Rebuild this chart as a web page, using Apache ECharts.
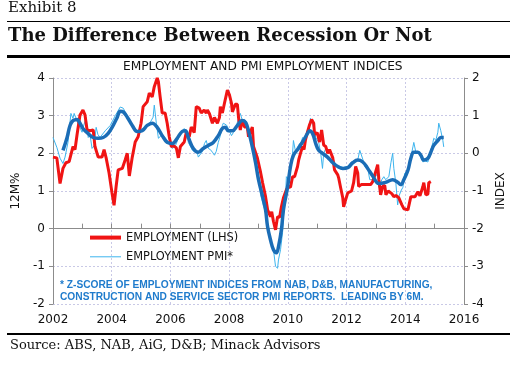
<!DOCTYPE html>
<html><head><meta charset="utf-8">
<script src="https://cdn.jsdelivr.net/npm/echarts/dist/echarts.min.js"></script>
<style>html,body{margin:0;padding:0;background:#fff}#c{width:515px;height:366px}</style>
</head><body><div id="c"></div>
<script>
// Employment, 12M% (LHS): [year, value]
var employment = [[2002.00,1.9],[2002.13,1.88],[2002.24,1.2],[2002.34,1.6],[2002.44,1.75],[2002.55,1.78],[2002.68,2.18],[2002.75,2.1],[2002.82,2.5],[2002.92,3.02],[2003.02,3.15],[2003.09,3.02],[2003.16,2.62],[2003.26,2.6],[2003.37,2.62],[2003.43,2.18],[2003.54,1.9],[2003.67,1.9],[2003.74,2.1],[2003.81,1.88],[2003.91,1.48],[2004.01,0.95],[2004.08,0.62],[2004.15,1.12],[2004.22,1.56],[2004.36,1.6],[2004.46,1.83],[2004.53,2.0],[2004.60,1.4],[2004.70,1.9],[2004.80,2.3],[2004.90,2.44],[2005.00,2.8],[2005.07,3.24],[2005.21,3.37],[2005.28,3.6],[2005.38,3.5],[2005.45,3.77],[2005.55,4.0],[2005.59,3.9],[2005.65,3.5],[2005.72,3.07],[2005.82,3.07],[2005.89,2.8],[2005.96,2.44],[2006.03,2.18],[2006.10,2.2],[2006.20,2.15],[2006.27,1.88],[2006.34,2.18],[2006.40,2.2],[2006.47,2.3],[2006.54,2.55],[2006.64,2.44],[2006.71,2.7],[2006.81,2.55],[2006.88,3.24],[2006.98,3.2],[2007.05,3.07],[2007.15,3.15],[2007.22,3.07],[2007.26,3.15],[2007.33,3.05],[2007.43,2.8],[2007.50,2.95],[2007.60,2.8],[2007.67,2.95],[2007.70,3.24],[2007.77,3.07],[2007.84,3.33],[2007.94,3.68],[2008.01,3.55],[2008.08,3.33],[2008.11,3.1],[2008.21,3.3],[2008.28,3.3],[2008.32,2.95],[2008.38,2.62],[2008.45,2.9],[2008.52,2.7],[2008.62,2.7],[2008.66,2.44],[2008.79,2.7],[2008.83,2.18],[2008.96,1.88],[2009.07,1.5],[2009.14,1.22],[2009.24,0.85],[2009.31,0.5],[2009.41,0.32],[2009.45,0.45],[2009.51,0.19],[2009.58,-0.03],[2009.65,0.32],[2009.72,0.3],[2009.78,0.58],[2009.85,0.82],[2009.95,1.03],[2010.02,1.12],[2010.09,1.1],[2010.16,1.38],[2010.23,1.38],[2010.26,1.4],[2010.33,1.65],[2010.37,1.83],[2010.43,2.0],[2010.50,2.18],[2010.55,2.1],[2010.60,2.36],[2010.67,2.57],[2010.74,2.76],[2010.81,2.9],[2010.88,2.8],[2010.91,2.5],[2011.00,2.55],[2011.08,2.3],[2011.15,2.62],[2011.22,2.22],[2011.29,2.18],[2011.36,2.0],[2011.42,2.1],[2011.53,1.88],[2011.59,1.56],[2011.70,1.43],[2011.73,1.35],[2011.80,1.08],[2011.87,0.82],[2011.90,0.58],[2011.97,0.77],[2012.04,0.95],[2012.10,0.9],[2012.17,1.0],[2012.24,1.22],[2012.31,1.65],[2012.38,1.48],[2012.41,1.12],[2012.50,1.17],[2012.60,1.17],[2012.70,1.17],[2012.82,1.17],[2012.89,1.25],[2012.96,1.43],[2013.06,1.7],[2013.10,1.3],[2013.16,0.9],[2013.23,1.12],[2013.30,1.15],[2013.34,0.9],[2013.42,1.0],[2013.47,0.95],[2013.54,0.93],[2013.61,0.85],[2013.68,0.88],[2013.78,0.82],[2013.88,0.64],[2013.95,0.53],[2014.09,0.5],[2014.14,0.55],[2014.19,0.85],[2014.25,0.87],[2014.33,0.85],[2014.43,0.98],[2014.50,0.87],[2014.53,0.92],[2014.60,1.12],[2014.63,1.22],[2014.70,0.9],[2014.77,0.92],[2014.80,1.22],[2014.87,1.25]];

// Employment PMI z-score (RHS), leading 6M: [year, value]
var employmentPMI = [[2002.00,0.42],[2002.13,0.16],[2002.24,-0.13],[2002.34,-0.27],[2002.41,-0.1],[2002.51,0.29],[2002.61,1.06],[2002.68,0.93],[2002.72,1.06],[2002.80,0.9],[2002.85,0.8],[2002.99,0.56],[2003.05,0.75],[2003.13,0.95],[2003.20,0.42],[2003.26,0.5],[2003.33,0.13],[2003.40,0.2],[2003.47,0.69],[2003.53,0.5],[2003.60,0.42],[2003.78,0.6],[2003.95,0.74],[2004.12,1.0],[2004.29,1.23],[2004.39,1.2],[2004.53,1.0],[2004.63,0.82],[2004.73,0.69],[2004.87,0.6],[2005.07,0.66],[2005.31,0.82],[2005.41,0.96],[2005.45,1.28],[2005.52,0.8],[2005.59,0.4],[2005.72,0.5],[2005.82,0.42],[2005.93,0.29],[2006.06,0.13],[2006.17,0.2],[2006.27,0.4],[2006.40,0.56],[2006.47,0.66],[2006.57,0.56],[2006.61,0.29],[2006.75,0.08],[2006.81,0.05],[2006.92,0.0],[2006.95,-0.1],[2007.09,0.05],[2007.16,0.26],[2007.22,0.34],[2007.29,0.13],[2007.36,0.1],[2007.43,0.03],[2007.50,-0.05],[2007.56,0.05],[2007.63,0.29],[2007.70,0.47],[2007.77,0.74],[2007.80,0.8],[2007.91,0.75],[2007.97,0.66],[2008.08,0.47],[2008.15,0.56],[2008.25,0.74],[2008.32,0.93],[2008.38,1.06],[2008.45,0.87],[2008.52,0.9],[2008.62,0.8],[2008.69,0.53],[2008.79,0.17],[2008.90,-0.25],[2009.00,-0.6],[2009.07,-1.1],[2009.17,-1.4],[2009.24,-1.55],[2009.31,-2.03],[2009.41,-2.3],[2009.51,-2.56],[2009.58,-3.0],[2009.65,-3.05],[2009.68,-2.83],[2009.75,-2.56],[2009.82,-2.1],[2009.85,-1.69],[2009.92,-1.15],[2009.95,-0.62],[2010.02,-0.7],[2010.09,-0.35],[2010.16,0.0],[2010.19,0.34],[2010.26,0.05],[2010.33,0.17],[2010.40,0.26],[2010.43,0.2],[2010.50,0.42],[2010.57,0.34],[2010.64,0.56],[2010.71,0.69],[2010.77,0.93],[2010.84,0.8],[2010.88,0.66],[2010.95,0.42],[2011.01,0.45],[2011.05,0.29],[2011.12,0.0],[2011.18,-0.4],[2011.22,0.0],[2011.29,0.13],[2011.35,0.16],[2011.39,0.03],[2011.49,0.0],[2011.56,-0.18],[2011.63,-0.3],[2011.70,-0.33],[2011.80,-0.35],[2011.90,-0.38],[2011.97,-0.35],[2012.04,-0.35],[2012.14,-0.25],[2012.24,-0.2],[2012.38,-0.18],[2012.45,0.08],[2012.55,-0.15],[2012.62,-0.35],[2012.72,-0.4],[2012.79,-0.7],[2012.89,-0.7],[2012.96,-0.65],[2013.06,-0.53],[2013.10,-0.9],[2013.20,-0.7],[2013.27,-0.62],[2013.33,-0.7],[2013.44,-0.62],[2013.51,-0.25],[2013.57,0.0],[2013.61,-0.4],[2013.68,-0.8],[2013.74,-1.37],[2013.78,-1.15],[2013.85,-1.0],[2013.92,-0.9],[2013.98,-0.53],[2014.09,-0.45],[2014.15,-0.25],[2014.26,0.17],[2014.29,0.29],[2014.36,0.03],[2014.43,0.05],[2014.46,0.03],[2014.53,-0.05],[2014.60,-0.23],[2014.67,-0.2],[2014.77,-0.23],[2014.87,0.08],[2014.94,0.29],[2014.97,0.4],[2015.04,0.35],[2015.11,0.56],[2015.14,0.8],[2015.21,0.6],[2015.28,0.34],[2015.31,0.17]];

// Smoothed employment PMI (RHS): [year, value]
var employmentPMISmoothed = [[2002.34,0.08],[2002.48,0.42],[2002.58,0.74],[2002.68,0.87],[2002.82,0.9],[2002.92,0.8],[2003.02,0.66],[2003.19,0.53],[2003.37,0.42],[2003.54,0.4],[2003.71,0.42],[2003.88,0.53],[2004.05,0.74],[2004.19,0.96],[2004.29,1.12],[2004.39,1.1],[2004.53,0.96],[2004.70,0.74],[2004.87,0.58],[2005.04,0.6],[2005.21,0.74],[2005.38,0.8],[2005.55,0.69],[2005.72,0.47],[2005.89,0.29],[2006.06,0.26],[2006.23,0.4],[2006.40,0.58],[2006.51,0.6],[2006.61,0.42],[2006.78,0.13],[2006.95,0.03],[2007.12,0.13],[2007.29,0.21],[2007.46,0.29],[2007.63,0.47],[2007.77,0.66],[2007.87,0.69],[2007.97,0.6],[2008.11,0.6],[2008.28,0.74],[2008.45,0.87],[2008.56,0.82],[2008.66,0.6],[2008.79,0.17],[2008.90,-0.25],[2009.00,-0.7],[2009.14,-1.15],[2009.24,-1.5],[2009.31,-1.95],[2009.41,-2.3],[2009.51,-2.56],[2009.61,-2.64],[2009.68,-2.48],[2009.78,-2.03],[2009.85,-1.5],[2009.99,-0.89],[2010.09,-0.35],[2010.19,-0.05],[2010.36,0.13],[2010.53,0.34],[2010.67,0.53],[2010.74,0.6],[2010.84,0.53],[2010.95,0.26],[2011.05,0.08],[2011.18,0.0],[2011.35,-0.1],[2011.53,-0.25],[2011.70,-0.35],[2011.87,-0.4],[2012.04,-0.38],[2012.21,-0.25],[2012.38,-0.18],[2012.55,-0.23],[2012.72,-0.4],[2012.89,-0.6],[2013.10,-0.8],[2013.33,-0.77],[2013.57,-0.7],[2013.74,-0.77],[2013.85,-0.83],[2013.95,-0.7],[2014.09,-0.45],[2014.19,-0.13],[2014.29,0.03],[2014.43,0.03],[2014.53,-0.05],[2014.63,-0.18],[2014.77,-0.13],[2014.87,0.03],[2014.97,0.21],[2015.11,0.34],[2015.21,0.42],[2015.31,0.42]];

var xTicks = [2002, 2004, 2006, 2008, 2010, 2012, 2014, 2016];
var leftTicks = [-2, -1, 0, 1, 2, 3, 4];
var rightTicks = [-4, -3, -2, -1, 0, 1, 2];

var sans = 'DejaVu Sans';
var serif = 'DejaVu Serif';
var gridColor = '#c9c9e6';
var axisGray = '#8c8c8c';
var red = '#f01414';
var lightBlue = '#3cb4ee';
var darkBlue = '#1b6db6';

var chart = echarts.init(document.getElementById('c'), null, {renderer: 'canvas'});
chart.setOption({
  animation: false,
  backgroundColor: '#fff',
  title: [
    {text: 'Exhibit 8', left: 8, top: 1, padding: 0,
     textStyle: {fontFamily: serif, fontSize: 15, fontWeight: 'normal', color: '#111'}},
    {text: 'The Difference Between Recession Or Not', left: 8, top: 27, padding: 0,
     textStyle: {fontFamily: serif, fontSize: 18, fontWeight: 'bold', color: '#111'}},
    {text: 'EMPLOYMENT AND PMI EMPLOYMENT INDICES', left: 123, top: 61, padding: 0,
     textStyle: {fontFamily: sans, fontSize: 12.2, fontWeight: 'normal', color: '#111'}},
    {text: '* Z-SCORE OF EMPLOYMENT INDICES FROM NAB, D&B, MANUFACTURING,\nCONSTRUCTION AND SERVICE SECTOR PMI REPORTS.  LEADING BY 6M.',
     left: 60, top: 279, padding: 0,
     textStyle: {fontFamily: 'Liberation Sans', fontSize: 10.2, fontWeight: 'bold', color: '#1f7bcc', lineHeight: 12}},
    {text: 'Source: ABS, NAB, AiG, D&B; Minack Advisors', left: 10, top: 339, padding: 0,
     textStyle: {fontFamily: serif, fontSize: 13, fontWeight: 'normal', color: '#111'}}
  ],
  graphic: [
    {type: 'line', shape: {x1: 7, y1: 21.5, x2: 510, y2: 21.5}, style: {stroke: '#000', lineWidth: 1}},
    {type: 'line', shape: {x1: 7, y1: 56.5, x2: 510, y2: 56.5}, style: {stroke: '#000', lineWidth: 3}},
    {type: 'line', shape: {x1: 7, y1: 334, x2: 510, y2: 334}, style: {stroke: '#000', lineWidth: 2}}
  ],
  legend: {
    data: [
      {name: 'EMPLOYMENT (LHS)', lineStyle: {width: 4, color: red}},
      {name: 'EMPLOYMENT PMI*', lineStyle: {width: 1, color: lightBlue}}
    ],
    orient: 'vertical', left: 88, top: 232, padding: 0,
    itemWidth: 31, itemHeight: 14, itemGap: 8,
    itemStyle: {opacity: 0},
    textStyle: {fontFamily: sans, fontSize: 11.4, color: '#111'}
  },
  grid: {left: 53, right: 51, top: 78, bottom: 62, containLabel: false},
  xAxis: [
    {type: 'value', min: xTicks[0], max: xTicks[xTicks.length - 1], interval: 2, position: 'bottom',
     axisLine: {show: false}, axisTick: {show: false},
     axisLabel: {fontFamily: sans, fontSize: 12, color: '#111', margin: 10, formatter: function (v) { return String(v); }},
     splitLine: {show: true, lineStyle: {color: gridColor, type: [2, 2], width: 1}}},
    {type: 'value', min: xTicks[0], max: xTicks[xTicks.length - 1], interval: 1, position: 'bottom',
     axisLine: {show: true, onZero: true, onZeroAxisIndex: 0, lineStyle: {color: axisGray, width: 1}},
     axisTick: {show: true, inside: true, length: 5, lineStyle: {color: axisGray}},
     axisLabel: {show: false}, splitLine: {show: false}}
  ],
  yAxis: [
    {type: 'value', min: leftTicks[0], max: leftTicks[leftTicks.length - 1], interval: 1, position: 'left',
     name: '12M%', nameLocation: 'middle', nameGap: 26,
     nameTextStyle: {fontFamily: sans, fontSize: 12, color: '#111'},
     axisLine: {show: true, lineStyle: {color: axisGray}},
     axisTick: {show: true, length: 4, lineStyle: {color: axisGray}},
     axisLabel: {fontFamily: sans, fontSize: 12, color: '#111', margin: 8},
     splitLine: {show: true, lineStyle: {color: gridColor, type: [2, 2], width: 1}}},
    {type: 'value', min: rightTicks[0], max: rightTicks[rightTicks.length - 1], interval: 1, position: 'right',
     name: 'INDEX', nameLocation: 'middle', nameGap: 28,
     nameTextStyle: {fontFamily: sans, fontSize: 12, color: '#111'},
     axisLine: {show: true, lineStyle: {color: axisGray}},
     axisTick: {show: true, length: 4, lineStyle: {color: axisGray}},
     axisLabel: {fontFamily: sans, fontSize: 12, color: '#111', margin: 8},
     splitLine: {show: false}}
  ],
  series: [
    {name: 'EMPLOYMENT PMI*', type: 'line', xAxisIndex: 0, yAxisIndex: 1, data: employmentPMI,
     symbol: 'none', lineStyle: {color: lightBlue, width: 1}, itemStyle: {color: lightBlue}, z: 2},
    {name: 'EMPLOYMENT (LHS)', type: 'line', xAxisIndex: 0, yAxisIndex: 0, data: employment,
     symbol: 'none', lineStyle: {color: red, width: 3}, itemStyle: {color: red}, z: 3},
    {name: 'PMI smoothed', type: 'line', xAxisIndex: 0, yAxisIndex: 1, data: employmentPMISmoothed,
     symbol: 'none', smooth: 0.4, lineStyle: {color: darkBlue, width: 3.5}, itemStyle: {color: darkBlue}, z: 4}
  ]
});
</script></body></html>
